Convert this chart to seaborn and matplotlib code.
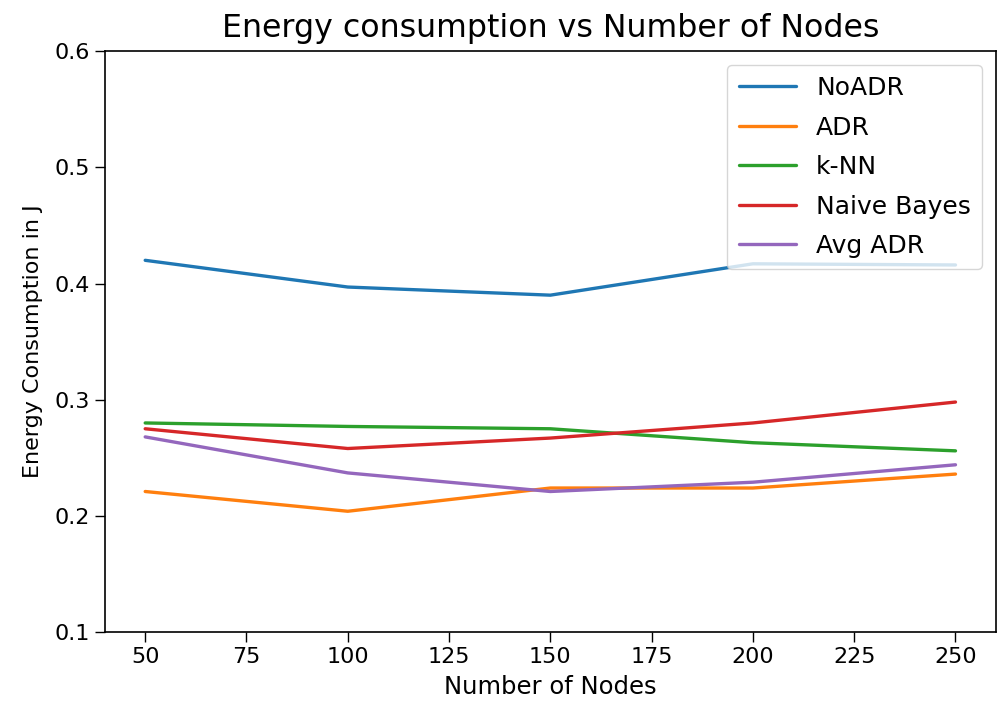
import matplotlib
matplotlib.use("Agg")
import matplotlib.pyplot as plt
import seaborn as sns
import pandas as pd

nodes = [50, 100, 150, 200, 250]
no_adr = [0.420, 0.397, 0.390, 0.417, 0.416]
adr = [0.221, 0.204, 0.224, 0.224, 0.236]
knn = [0.280, 0.277, 0.275, 0.263, 0.256]
naive_bayes = [0.275, 0.258, 0.267, 0.280, 0.298]
avg_adr = [0.268, 0.237, 0.221, 0.229, 0.244]

series_names = ["NoADR", "ADR", "k-NN", "Naive Bayes", "Avg ADR"]
series_vals = [no_adr, adr, knn, naive_bayes, avg_adr]

rows = []
for name, vals in zip(series_names, series_vals):
    for x, v in zip(nodes, vals):
        rows.append({"Nodes": x, "Energy": v, "Method": name})
df = pd.DataFrame(rows)

sns.set_style("ticks")
plt.rcParams['font.family'] = ['DejaVu Sans']
plt.rcParams['text.color'] = 'black'
plt.rcParams['axes.labelcolor'] = 'black'
plt.rcParams['xtick.color'] = 'black'
plt.rcParams['ytick.color'] = 'black'
plt.rcParams['axes.edgecolor'] = 'black'

fig, ax = plt.subplots(figsize=(9.97, 7.11), dpi=100)
fig.subplots_adjust(left=0.105, right=0.999, top=0.928, bottom=0.111)

palette = ["#1f77b4", "#ff7f0e", "#2ca02c", "#d62728", "#9467bd"]
sns.lineplot(data=df, x="Nodes", y="Energy", hue="Method", hue_order=series_names,
             palette=palette, linewidth=2.4, ax=ax)

ax.set_ylim(0.1, 0.6)
ax.set_xlim(40, 260)
ax.set_xticks([50, 75, 100, 125, 150, 175, 200, 225, 250])
ax.set_yticks([0.1, 0.2, 0.3, 0.4, 0.5, 0.6])
ax.tick_params(labelsize=16, length=7, width=1.0)
for s in ax.spines.values():
    s.set_linewidth(1.2)
ax.set_xlabel("Number of Nodes", fontsize=17.5, labelpad=6)
ax.set_ylabel("Energy Consumption in J", fontsize=16, labelpad=8)
ax.set_title("Energy consumption vs Number of Nodes", fontsize=22.8, pad=10)

leg = ax.legend(loc="upper right", fontsize=18, frameon=True, handlelength=2.3,
                borderaxespad=0.55, labelspacing=0.62, handletextpad=0.8,
                borderpad=0.45)
leg.get_frame().set_edgecolor("#cccccc")

fig.savefig("out.png", dpi=100)
